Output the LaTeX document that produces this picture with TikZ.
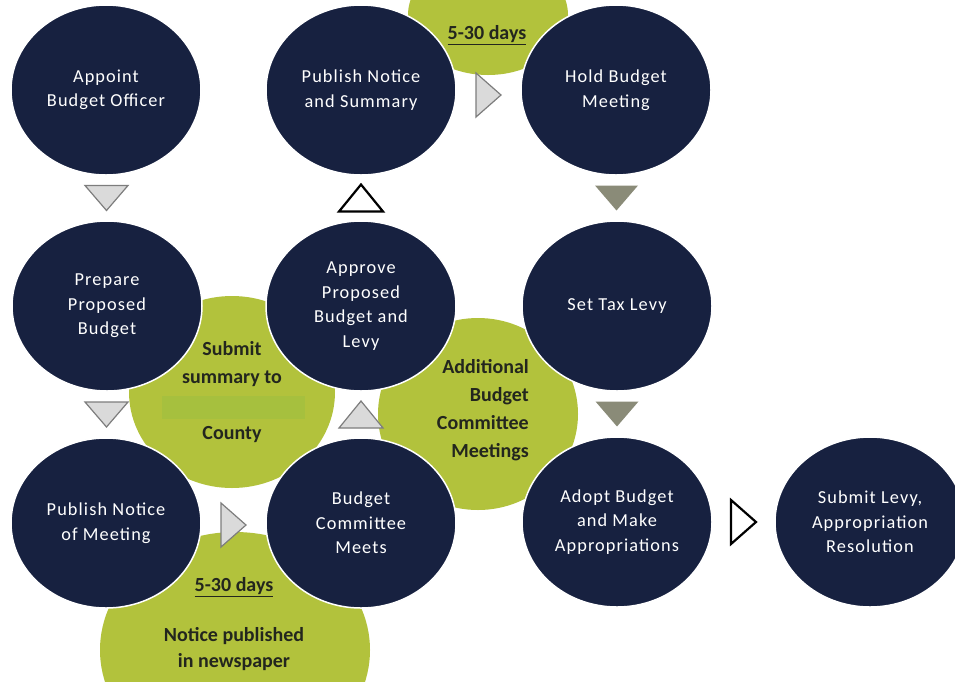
\documentclass[tikz,border=0pt]{standalone}
\usepackage{fontspec}
\setmainfont{Carlito}
\newfontfamily\stagefont[LetterSpace=6]{Carlito}
\usetikzlibrary{calc,shapes.geometric}

\definecolor{navy}{RGB}{23,33,64}
\definecolor{leaf}{RGB}{178,194,60}
\definecolor{leafband}{RGB}{166,192,62}
\definecolor{inkdark}{RGB}{35,38,30}
\definecolor{arrowlight}{RGB}{218,218,218}
\definecolor{arrowline}{RGB}{125,125,125}
\definecolor{arrowolive}{RGB}{138,139,120}

\tikzset{
  stage/.style={ellipse, fill=navy, draw=white, line width=1.5pt, minimum width=190pt, minimum height=170pt,
    inner sep=0pt, text=white, align=center, font=\stagefont\fontsize{18.3}{24.5}\selectfont},
  blob/.style={ellipse, fill=leaf, draw=none, inner sep=0pt},
  note/.style={text=inkdark, align=center, inner sep=0pt, font=\bfseries\fontsize{20}{28}\selectfont},
  lightarrow/.style={fill=arrowlight, draw=arrowline, line width=1.2pt},
  darkarrow/.style={fill=arrowolive},
  openarrow/.style={fill=white, draw=black, line width=2.2pt},
  tridown/.pic={\path[#1] (-21.5,12.5) -- (21.5,12.5) -- (0,-12.5) -- cycle;},
  triup/.pic={\path[#1] (-22,-13.5) -- (22,-13.5) -- (0,13.5) -- cycle;},
  triright/.pic={\path[#1] (-12.5,-22) -- (-12.5,22) -- (12.5,0) -- cycle;},
}

\begin{document}
\begin{tikzpicture}[x=1pt,y=1pt,yscale=-1]
\useasboundingbox (0,0) rectangle (955,681);
\clip (0,0) rectangle (955,681);

%Shape: Ellipse (green backdrops)
\node[blob, minimum width=160pt, minimum height=120pt] (gaptop) at (488,15) {};
\node[blob, minimum width=206pt, minimum height=192pt] (gapcounty) at (232,392) {};
\node[blob, minimum width=200pt, minimum height=192pt] (gapextra) at (478,414) {};
\node[blob, minimum width=270pt, minimum height=236pt] (gapnews) at (235,650) {};
\node[fill=leafband, minimum width=143pt, minimum height=23pt, inner sep=0pt] (band) at (233,407) {};

%Shape: Ellipse (steps)
\node[stage] (appoint) at (106,90) {Appoint\\Budget Officer};
\node[stage] (pubsum) at (361,90) {Publish Notice\\and Summary};
\node[stage] (hold) at (616,90) {Hold Budget\\Meeting};
\node[stage] (prepare) at (107,306) {Prepare\\Proposed\\Budget};
\node[stage] (approve) at (361,306) {Approve\\Proposed\\Budget and\\Levy};
\node[stage] (levy) at (617,306) {Set Tax Levy};
\node[stage] (pubmeet) at (106,523) {Publish Notice\\of Meeting};
\node[stage] (committee) at (361,523) {Budget\\Committee\\Meets};
\node[stage] (adopt) at (617,522) {Adopt Budget\\and Make\\Appropriations};
\node[stage] (submit) at (870,522) {Submit Levy,\\Appropriation\\Resolution};

% Text Node
\node[note] (daystop) at (487,35) {\underline{5-30 days}};
\node[note] (county) at (232,392) {Submit\\summary to\\\mbox{}\\County};
\node[note, align=right, anchor=east] (extra) at (529,410) {Additional\\Budget\\Committee\\Meetings};
\node[note] (daysbottom) at (234,587) {\underline{5-30 days}};
\node[note, font=\bfseries\fontsize{20}{26}\selectfont] (news) at (234,649) {Notice published\\in newspaper};

%Shape: Triangle (arrows)
\pic at ($(appoint)!0.5!(prepare)$) {tridown=lightarrow};
\pic at ($(approve)!0.5!(pubsum)$) {triup=openarrow};
\pic at ($(pubsum)!0.5!(hold)+(0,5)$) {triright=lightarrow};
\pic at ($(hold)!0.5!(levy)$) {tridown=darkarrow};
\pic at ($(levy)!0.5!(adopt)$) {tridown=darkarrow};
\pic at ($(prepare)!0.5!(pubmeet)$) {tridown=lightarrow};
\pic at ($(committee)!0.5!(approve)$) {triup=lightarrow};
\pic at ($(pubmeet)!0.5!(committee)+(0,2)$) {triright=lightarrow};
\pic at ($(adopt)!0.5!(submit)$) {triright=openarrow};

\end{tikzpicture}
\end{document}
